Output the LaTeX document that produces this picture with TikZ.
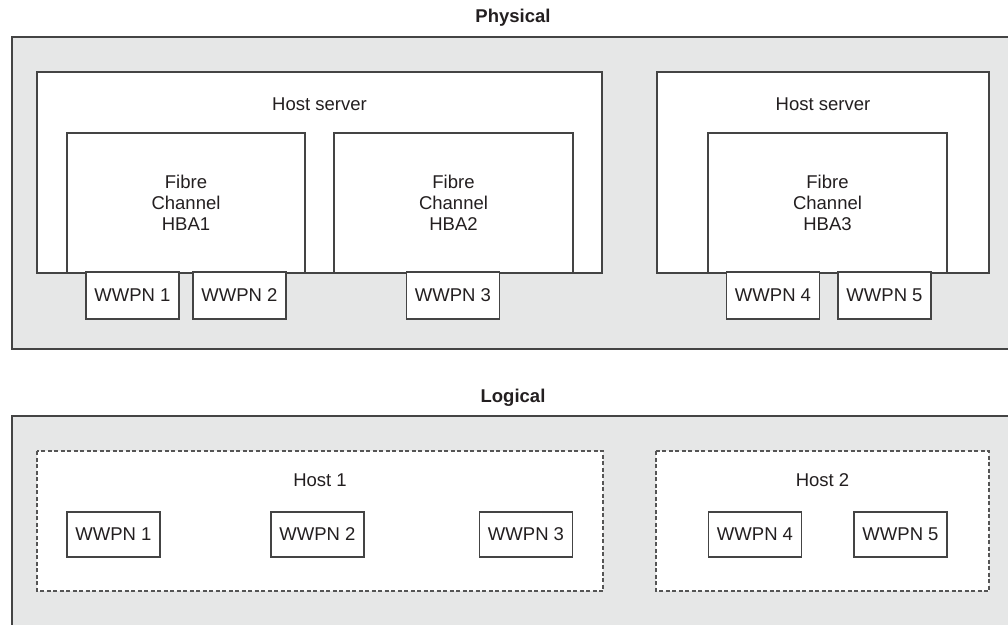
\documentclass[tikz,border=0pt]{standalone}
\usepackage{fontspec}
\setmainfont{Liberation Sans}
\definecolor{panelgray}{HTML}{E6E7E7}
\definecolor{edgegray}{HTML}{444444}
\definecolor{dashgray}{HTML}{555555}
\definecolor{textgray}{HTML}{231F20}

\begin{document}
\begin{tikzpicture}[x=1pt, y=-1pt,
  panel/.style={fill=panelgray, draw=edgegray, line width=1.1pt},
  boxw/.style={fill=white, draw=edgegray, line width=1.1pt},
  dashbox/.style={fill=white, draw=dashgray, line width=1.1pt, dash pattern=on 4pt off 2.5pt},
  wwpn/.style={boxw, minimum width=93pt, minimum height=47pt, inner sep=0pt},
  lwwpn/.style={wwpn, minimum height=45pt},
  every node/.style={font=\fontsize{18.5}{21.2}\selectfont, text=textgray}]
\useasboundingbox (0,0) rectangle (1008,624);

% physical side
\node [anchor=base, font=\fontsize{18.5}{21.2}\selectfont\bfseries] (physlab) at (513,22.7) {Physical};
\draw [panel] (12,37) rectangle (1020,349);
\draw [boxw] (37,72) rectangle (602,273);
\draw [boxw] (657,72) rectangle (989,273);
\node [anchor=base] (srv1) at (319.5,110) {Host server};
\node [anchor=base] (srv2) at (823,110) {Host server};
\foreach \l/\r/\n in {67/305/1, 334/573/2, 708/947/3} {
  \draw [boxw] (\l,133) rectangle (\r,273);
  \node [align=center] (hba\n) at ({(\l+\r)/2},203) {Fibre\\Channel\\HBA\n};
}
\foreach \x/\n in {132.5/1, 239.5/2, 453/3, 773/4, 884.5/5}
  \node [wwpn] (pw\n) at (\x,295.5) {WWPN \n};

% logical side
\node [anchor=base, font=\fontsize{18.5}{21.2}\selectfont\bfseries] (loglab) at (513,402) {Logical};
\draw [panel] (12,416) rectangle (1020,640);
\draw [dashbox] (37,451) rectangle (603,591);
\draw [dashbox] (656,451) rectangle (989,591);
\node [anchor=base] (host1) at (320,486) {Host 1};
\node [anchor=base] (host2) at (822.5,486) {Host 2};
\foreach \x/\n in {113.5/1, 317.5/2, 526/3, 755/4, 900.5/5}
  \node [lwwpn] (lw\n) at (\x,534.5) {WWPN \n};
\end{tikzpicture}
\end{document}
